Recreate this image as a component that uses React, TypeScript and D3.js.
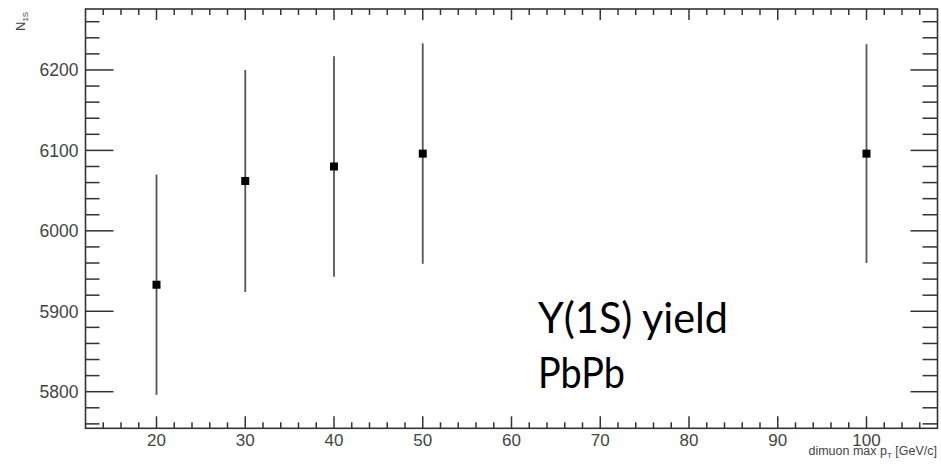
import React from "react";
import * as d3 from "d3";

const ptValues = [20, 30, 40, 50, 100];
const yieldValues = [5933, 6062, 6080, 6096, 6096];
const yieldErrors = [137, 138, 137, 137, 136];
const xMajorTicks = [20, 30, 40, 50, 60, 70, 80, 90, 100];
const yMajorTicks = [5800, 5900, 6000, 6100, 6200];
const xDomain = [12, 108];
const yDomain = [5754.5, 6275.8];

const W = 941;
const H = 466;
const left = 85.5;
const right = 937.5;
const top = 9;
const bottom = 428.3;

export default function App() {
  const x = d3.scaleLinear().domain(xDomain).range([left, right]);
  const y = d3.scaleLinear().domain(yDomain).range([bottom, top]);
  const xMinor = d3.range(14, 108, 2).filter((v) => v % 10 !== 0);
  const yMinor = d3.range(5760, 6280, 20).filter((v) => v % 100 !== 0);
  const axisColor = "#333";
  const labelColor = "#444";
  const font = "'Liberation Sans', Arial, sans-serif";

  return (
    <svg
      width={W}
      height={H}
      style={{ position: "absolute", left: 0, top: 0, background: "#fff" }}
    >
      <rect x={0} y={0} width={W} height={H} fill="#fff" />
      <rect
        x={left}
        y={top}
        width={right - left}
        height={bottom - top}
        fill="none"
        stroke={axisColor}
        strokeWidth={1.6}
      />
      {xMajorTicks.map((v) => (
        <g key={"xM" + v}>
          <line x1={x(v)} x2={x(v)} y1={bottom} y2={bottom - 12} stroke={axisColor} strokeWidth={1.5} />
          <line x1={x(v)} x2={x(v)} y1={top} y2={top + 11} stroke={axisColor} strokeWidth={1.5} />
          <text
            x={x(v)}
            y={445.5}
            textAnchor="middle"
            fontFamily={font}
            fontSize={17}
            fill={labelColor}
          >
            {v}
          </text>
        </g>
      ))}
      {xMinor.map((v) => (
        <g key={"xm" + v}>
          <line x1={x(v)} x2={x(v)} y1={bottom} y2={bottom - 6} stroke={axisColor} strokeWidth={1.5} />
          <line x1={x(v)} x2={x(v)} y1={top} y2={top + 6} stroke={axisColor} strokeWidth={1.5} />
        </g>
      ))}
      {yMajorTicks.map((v) => (
        <g key={"yM" + v}>
          <line x1={left} x2={left + 28} y1={y(v)} y2={y(v)} stroke={axisColor} strokeWidth={1.5} />
          <line x1={right} x2={right - 27} y1={y(v)} y2={y(v)} stroke={axisColor} strokeWidth={1.5} />
          <text
            x={78.5}
            y={y(v) + 6.3}
            textAnchor="end"
            fontFamily={font}
            fontSize={17.5}
            fill={labelColor}
          >
            {v}
          </text>
        </g>
      ))}
      {yMinor.map((v) => (
        <g key={"ym" + v}>
          <line x1={left} x2={left + 14} y1={y(v)} y2={y(v)} stroke={axisColor} strokeWidth={1.5} />
          <line x1={right} x2={right - 15} y1={y(v)} y2={y(v)} stroke={axisColor} strokeWidth={1.5} />
        </g>
      ))}
      <text
        x={937}
        y={455}
        textAnchor="end"
        fontFamily={font}
        fontSize={12.5}
        fill={labelColor}
      >
        dimuon max p
        <tspan dy={3} fontSize={8}>T</tspan>
        <tspan dy={-3}> [GeV/c]</tspan>
      </text>
      <text
        transform="translate(25,31) rotate(-90)"
        fontFamily={font}
        fontSize={13}
        fill={labelColor}
      >
        N
        <tspan dy={3} fontSize={8}>1S</tspan>
      </text>
      {ptValues.map((p, i) => (
        <g key={"pt" + p}>
          <line
            x1={x(p)}
            x2={x(p)}
            y1={y(yieldValues[i] - yieldErrors[i])}
            y2={y(yieldValues[i] + yieldErrors[i])}
            stroke="#555"
            strokeWidth={1.8}
          />
          <rect
            x={x(p) - 4}
            y={y(yieldValues[i]) - 4}
            width={8}
            height={8}
            fill="#000"
          />
        </g>
      ))}
      <text
        x={538}
        y={333}
        fontFamily="Lato, 'Open Sans', sans-serif"
        fontSize={43}
        fill="#000"
        textLength={190}
        lengthAdjust="spacingAndGlyphs"
      >
        Y(1S) yield
      </text>
      <text
        x={538}
        y={388}
        fontFamily="Lato, 'Open Sans', sans-serif"
        fontSize={43}
        fill="#000"
        textLength={87}
        lengthAdjust="spacingAndGlyphs"
      >
        PbPb
      </text>
    </svg>
  );
}
